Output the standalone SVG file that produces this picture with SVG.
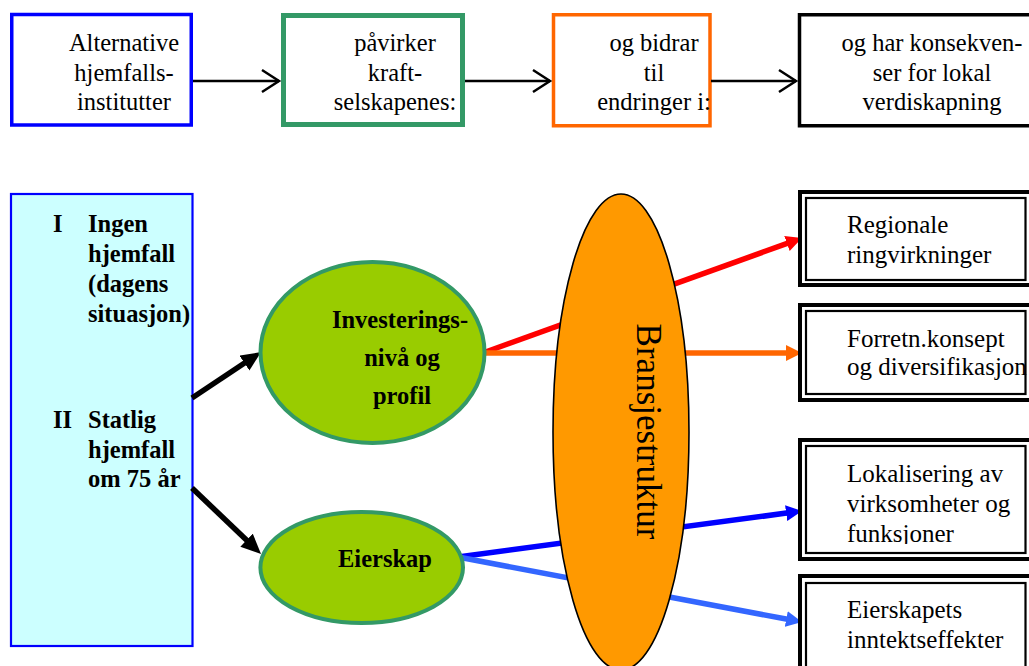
<svg xmlns="http://www.w3.org/2000/svg" width="1029" height="666" viewBox="0 0 1029 666">
<style>
.ser{font-family:"Liberation Serif","Times New Roman",serif;fill:#000}
.top{font-size:24.5px;text-anchor:middle}
.bold{font-weight:bold;font-size:24.5px}
.rt{font-size:25px}
.tl{stroke:#000;stroke-width:2.5;fill:none}
.dbl-o{fill:#fff;stroke:#000;stroke-width:4}
.dbl-i{fill:none;stroke:#000;stroke-width:2.2}
</style>
<defs>
<marker id="chev" viewBox="0 0 20 24" refX="18" refY="12" markerWidth="20" markerHeight="24" markerUnits="userSpaceOnUse" orient="auto" overflow="visible">
<path d="M1,1 L18,12 L1,23" fill="none" stroke="#000" stroke-width="2.5"/>
</marker>
<marker id="hBlack" viewBox="0 0 20 18" refX="6" refY="9" markerWidth="20" markerHeight="18" markerUnits="userSpaceOnUse" orient="auto">
<path d="M0,0 L20,9 L0,18 z" fill="#000"/>
</marker>
<marker id="hRed" viewBox="0 0 16 16" refX="4" refY="8" markerWidth="16" markerHeight="16" markerUnits="userSpaceOnUse" orient="auto">
<path d="M0,0 L16,8 L0,16 z" fill="#FF0000"/>
</marker>
<marker id="hOrange" viewBox="0 0 16 16" refX="4" refY="8" markerWidth="16" markerHeight="16" markerUnits="userSpaceOnUse" orient="auto">
<path d="M0,0 L16,8 L0,16 z" fill="#FF6600"/>
</marker>
<marker id="hBlue" viewBox="0 0 16 16" refX="4" refY="8" markerWidth="16" markerHeight="16" markerUnits="userSpaceOnUse" orient="auto">
<path d="M0,0 L16,8 L0,16 z" fill="#0000FF"/>
</marker>
<marker id="hLBlue" viewBox="0 0 16 16" refX="4" refY="8" markerWidth="16" markerHeight="16" markerUnits="userSpaceOnUse" orient="auto">
<path d="M0,0 L16,8 L0,16 z" fill="#3366FF"/>
</marker>
<clipPath id="clipTop"><rect x="0" y="0" width="1029" height="115"/></clipPath>
<clipPath id="clipR3"><rect x="0" y="440" width="1029" height="104"/></clipPath>
</defs>

<g id="top-alternative">
<rect x="11.75" y="14.5" width="179.5" height="110.5" fill="#fff" stroke="#0000FF" stroke-width="3.5"/>
<g clip-path="url(#clipTop)" class="ser top">
<text x="124" y="51">Alternative</text>
<text x="124" y="80.5">hjemfalls-</text>
<text x="124" y="110">institutter</text>
</g>
</g>
<g id="top-pavirker">
<rect x="283.5" y="15.5" width="179" height="109" fill="#fff" stroke="#339966" stroke-width="5"/>
<g clip-path="url(#clipTop)" class="ser top">
<text x="395" y="51">påvirker</text>
<text x="395" y="80.5">kraft-</text>
<text x="395" y="110">selskapenes:</text>
</g>
</g>
<g id="top-bidrar">
<rect x="553.5" y="14.75" width="156.5" height="111" fill="#fff" stroke="#FF6600" stroke-width="3.5"/>
<g clip-path="url(#clipTop)" class="ser top">
<text x="654" y="51">og bidrar</text>
<text x="654" y="80.5">til</text>
<text x="654" y="110">endringer i:</text>
</g>
</g>
<g id="top-konsekvenser">
<rect x="799.5" y="14.75" width="245" height="111" fill="#fff" stroke="#000" stroke-width="3.5"/>
<g clip-path="url(#clipTop)" class="ser top">
<text x="932" y="51">og har konsekven-</text>
<text x="932" y="80.5">ser for lokal</text>
<text x="932" y="110">verdiskapning</text>
</g>
</g>

<g id="left-box">
<rect x="11" y="194" width="181.5" height="452" fill="#CCFFFF" stroke="#0000FF" stroke-width="2.2"/>
<g class="ser bold">
<text x="53" y="232">I</text>
<text x="88" y="232">Ingen</text>
<text x="88" y="262">hjemfall</text>
<text x="88" y="292">(dagens</text>
<text x="88" y="322">situasjon)</text>
<text x="53" y="428">II</text>
<text x="88" y="428">Statlig</text>
<text x="88" y="458">hjemfall</text>
<text x="88" y="487">om 75 år</text>
</g>
</g>

<g id="connectors">
<line class="tl" x1="193" y1="81" x2="279" y2="81" marker-end="url(#chev)"/>
<line class="tl" x1="465" y1="81" x2="550" y2="81" marker-end="url(#chev)"/>
<line class="tl" x1="711" y1="81" x2="796" y2="81" marker-end="url(#chev)"/>
<line x1="192" y1="398" x2="249.4" y2="359.8" stroke="#000" stroke-width="5.5" marker-end="url(#hBlack)"/>
<line x1="192" y1="488" x2="250.9" y2="544.3" stroke="#000" stroke-width="5.5" marker-end="url(#hBlack)"/>
<line x1="480" y1="354" x2="790.7" y2="242.1" stroke="#FF0000" stroke-width="5.5" marker-end="url(#hRed)"/>
<line x1="480" y1="353" x2="790" y2="353" stroke="#FF6600" stroke-width="5.5" marker-end="url(#hOrange)"/>
<line x1="458" y1="557" x2="790.1" y2="512.6" stroke="#0000FF" stroke-width="5.5" marker-end="url(#hBlue)"/>
<line x1="458" y1="557" x2="790.2" y2="619.8" stroke="#3366FF" stroke-width="5.5" marker-end="url(#hLBlue)"/>
</g>

<g id="investering">
<ellipse cx="372.5" cy="352.5" rx="112" ry="90.5" fill="#99CC00" stroke="#339966" stroke-width="4"/>
<g class="ser bold" text-anchor="middle">
<text x="400" y="328">Investerings-</text>
<text x="402" y="366">nivå og</text>
<text x="402" y="404">profil</text>
</g>
</g>
<g id="eierskap">
<ellipse cx="361.7" cy="567.5" rx="101.3" ry="55.5" fill="#99CC00" stroke="#339966" stroke-width="4"/>
<text class="ser bold" x="385" y="567" text-anchor="middle">Eierskap</text>
</g>

<g id="bransjestruktur">
<ellipse cx="621" cy="432" rx="68" ry="238" fill="#FF9900" stroke="#000" stroke-width="1.6"/>
<text class="ser" font-size="35" text-anchor="middle" transform="translate(637,431.5) rotate(90)">Bransjestruktur</text>
</g>

<g id="r-regionale">
<rect class="dbl-o" x="800" y="192" width="240" height="93"/>
<rect class="dbl-i" x="806" y="198" width="219.5" height="82"/>
<text class="ser rt" x="847" y="233">Regionale</text>
<text class="ser rt" x="847" y="263">ringvirkninger</text>
</g>
<g id="r-forretn">
<rect class="dbl-o" x="800" y="305" width="240" height="95"/>
<rect class="dbl-i" x="806" y="311" width="219.5" height="83"/>
<text class="ser rt" x="847" y="347">Forretn.konsept</text>
<text class="ser rt" x="847" y="375">og diversifikasjon</text>
</g>
<g id="r-lokalisering">
<rect class="dbl-o" x="800" y="440" width="240" height="119"/>
<rect class="dbl-i" x="806" y="446" width="219.5" height="107"/>
<g clip-path="url(#clipR3)">
<text class="ser rt" x="847" y="482">Lokalisering av</text>
<text class="ser rt" x="847" y="512">virksomheter og</text>
<text class="ser rt" x="847" y="541.5">funksjoner</text>
</g>
</g>
<g id="r-eierskapets">
<rect class="dbl-o" x="800" y="576" width="240" height="110"/>
<rect class="dbl-i" x="806" y="583" width="219.5" height="100"/>
<text class="ser rt" x="847" y="618">Eierskapets</text>
<text class="ser rt" x="847" y="648">inntektseffekter</text>
</g>
</svg>
